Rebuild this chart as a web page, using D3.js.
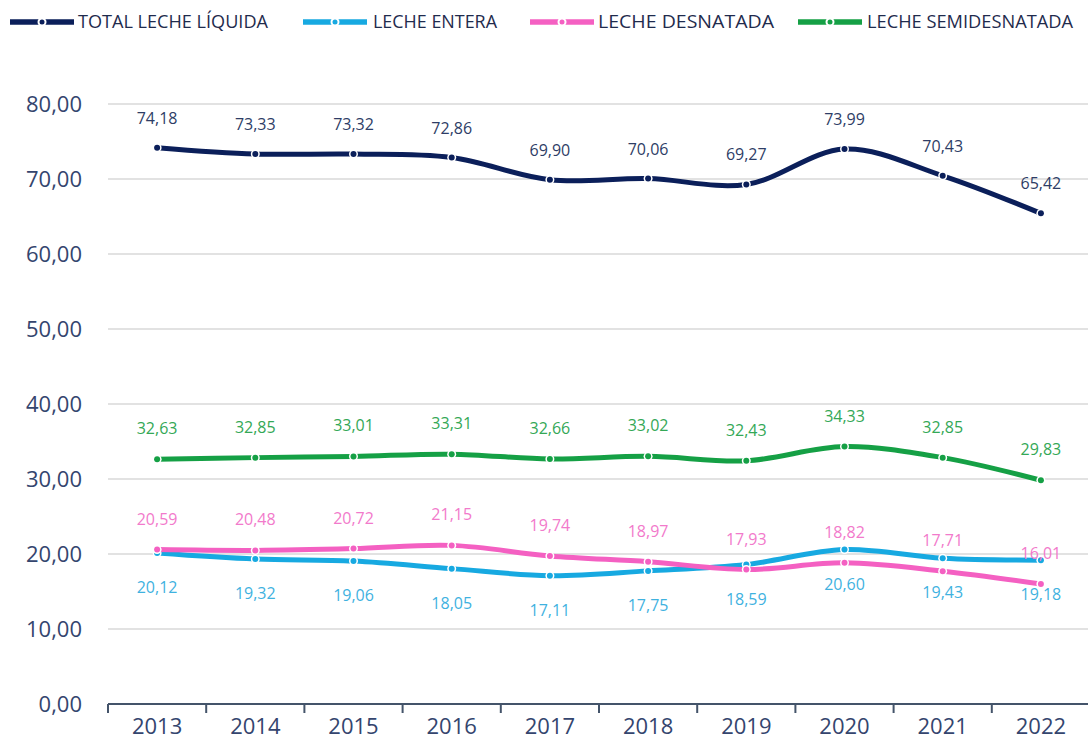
<!DOCTYPE html>
<html>
<head>
<meta charset="utf-8">
<script src="https://cdn.jsdelivr.net/npm/d3@7"></script>
<style>
  body { margin: 0; background: #fff; }
  svg { display: block; font-family: "Open Sans", sans-serif; }
</style>
</head>
<body>
<script>
const years = [2013, 2014, 2015, 2016, 2017, 2018, 2019, 2020, 2021, 2022];
const totalLiquida = [74.18, 73.33, 73.32, 72.86, 69.90, 70.06, 69.27, 73.99, 70.43, 65.42];
const entera = [20.12, 19.32, 19.06, 18.05, 17.11, 17.75, 18.59, 20.60, 19.43, 19.18];
const desnatada = [20.59, 20.48, 20.72, 21.15, 19.74, 18.97, 17.93, 18.82, 17.71, 16.01];
const semidesnatada = [32.63, 32.85, 33.01, 33.31, 32.66, 33.02, 32.43, 34.33, 32.85, 29.83];
const yTicks = [0, 10, 20, 30, 40, 50, 60, 70, 80];

const series = [
  {name: "TOTAL LECHE LÍQUIDA", values: totalLiquida, color: "#0b1f5a", text: "#2e3d66", dy: -24, lx: 10, tx: 78, tw: 190},
  {name: "LECHE ENTERA", values: entera, color: "#17a9e1", text: "#3fb2df", dy: 40, lx: 303, tx: 373, tw: 124},
  {name: "LECHE DESNATADA", values: desnatada, color: "#f460c2", text: "#f27acb", dy: -25, lx: 530, tx: 598, tw: 176},
  {name: "LECHE SEMIDESNATADA", values: semidesnatada, color: "#15a045", text: "#34a856", dy: -25, lx: 798, tx: 867, tw: 206}
];

const width = 1088, height = 751;
const fmt = v => v.toFixed(2).replace(".", ",");

const svg = d3.select("body").append("svg")
    .attr("width", width)
    .attr("height", height);

const x = d3.scaleBand()
    .domain(years)
    .range([108, 1090]);

const y = d3.scaleLinear()
    .domain([0, 80])
    .range([704, 104]);

// grid
svg.append("g")
  .selectAll("line")
  .data(yTicks.filter(d => d > 0))
  .enter().append("line")
    .attr("x1", 108)
    .attr("x2", width)
    .attr("y1", d => y(d))
    .attr("y2", d => y(d))
    .attr("stroke", "#d9d9d9")
    .attr("stroke-width", 1.5);

// y labels
svg.append("g")
  .selectAll("text")
  .data(yTicks)
  .enter().append("text")
    .attr("x", 82)
    .attr("y", d => y(d))
    .attr("dy", "0.35em")
    .attr("text-anchor", "end")
    .attr("fill", "#34456e")
    .style("font-size", "22px")
    .text(d => fmt(d));

// x axis
const xAxis = d3.axisBottom(x).tickSize(0).tickPadding(14);
const gx = svg.append("g")
    .attr("transform", "translate(0," + y(0) + ")")
    .call(xAxis);
gx.select(".domain").remove();
gx.append("line")
    .attr("x1", 108).attr("x2", width)
    .attr("stroke", "#44546a").attr("stroke-width", 2);
gx.selectAll(".bnd")
  .data(years)
  .enter().append("line")
    .attr("x1", d => x(d)).attr("x2", d => x(d))
    .attr("y1", 0).attr("y2", 9)
    .attr("stroke", "#44546a").attr("stroke-width", 2);
gx.selectAll(".tick text")
    .attr("fill", "#34456e")
    .style("font-size", "22px")
    .style("font-family", "Open Sans, sans-serif");

const line = d3.line()
    .x((d, i) => x(years[i]) + x.bandwidth() / 2)
    .y(d => y(d))
    .curve(d3.curveCatmullRom.alpha(0.5));

series.forEach(s => {
  const g = svg.append("g");
  g.append("path")
      .attr("d", line(s.values))
      .attr("fill", "none")
      .attr("stroke", s.color)
      .attr("stroke-width", 5);
  g.selectAll(".gap")
    .data(s.values)
    .enter().append("circle")
      .attr("cx", (d, i) => x(years[i]) + x.bandwidth() / 2)
      .attr("cy", d => y(d))
      .attr("r", 4.5)
      .attr("fill", "#fff");
  g.selectAll(".dot")
    .data(s.values)
    .enter().append("circle")
      .attr("cx", (d, i) => x(years[i]) + x.bandwidth() / 2)
      .attr("cy", d => y(d))
      .attr("r", 3)
      .attr("fill", s.color);
});

series.forEach(s => {
  svg.append("g")
    .selectAll("text")
    .data(s.values)
    .enter().append("text")
      .attr("x", (d, i) => x(years[i]) + x.bandwidth() / 2)
      .attr("y", d => y(d) + s.dy)
      .attr("text-anchor", "middle")
      .attr("fill", s.text)
      .style("font-size", "16px")
      .text(d => fmt(d));
});

// legend
const legend = svg.append("g").attr("transform", "translate(0,22)");
series.forEach(s => {
  const item = legend.append("g");
  item.append("line")
      .attr("x1", s.lx).attr("x2", s.lx + 64)
      .attr("stroke", s.color).attr("stroke-width", 5.5);
  item.append("circle")
      .attr("cx", s.lx + 32).attr("r", 4.5).attr("fill", "#fff");
  item.append("circle")
      .attr("cx", s.lx + 32).attr("r", 2.5).attr("fill", s.color);
  item.append("text")
      .attr("x", s.tx)
      .attr("dy", "0.36em")
      .attr("fill", "#1f2b4d")
      .attr("textLength", s.tw)
      .attr("lengthAdjust", "spacingAndGlyphs")
      .style("font-size", "18px")
      .text(s.name);
});
</script>
</body>
</html>
